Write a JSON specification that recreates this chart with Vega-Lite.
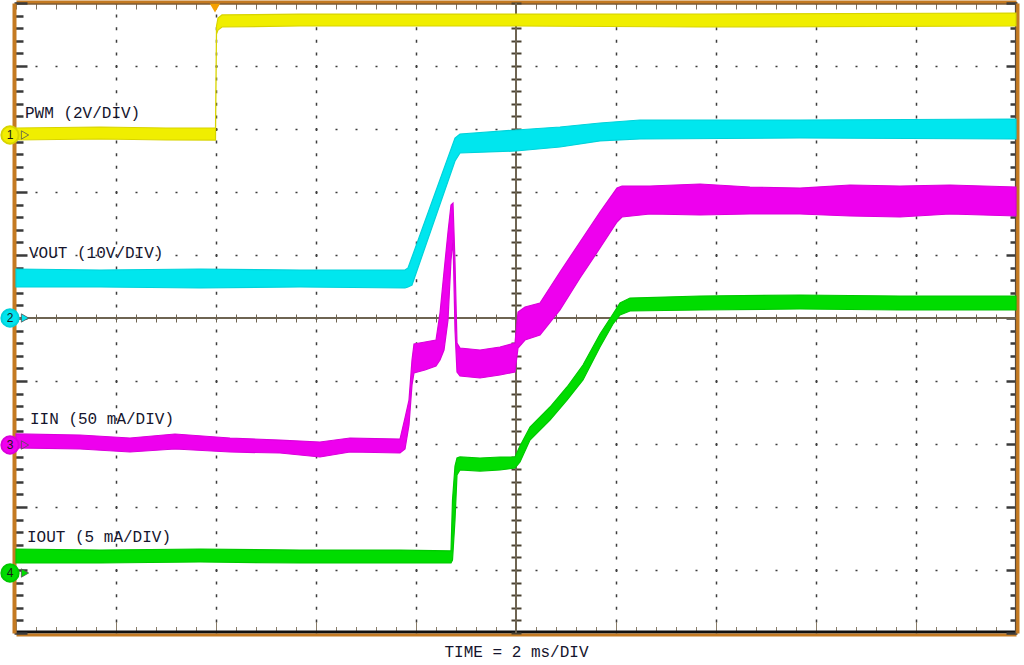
{
  "$schema": "https://vega.github.io/schema/vega-lite/v6.json",
  "width": 1000,
  "height": 630,
  "autosize": "none",
  "padding": {"left": 16, "top": 3, "right": 8, "bottom": 32},
  "background": "#FFFFFF",
  "config": {
    "view": {"stroke": null, "fill": "#FFFFFF"}
  },
  "datasets": {
    "center": [{"t": 0, "v": 0}],
    "traces": [
      {"s": "PWM", "t": -10, "lo": 2.825, "hi": 3.016},
      {"s": "PWM", "t": -8.32, "lo": 2.841, "hi": 3.032},
      {"s": "PWM", "t": -7.0, "lo": 2.825, "hi": 3.016},
      {"s": "PWM", "t": -6.01, "lo": 2.825, "hi": 3.016},
      {"s": "PWM", "t": -5.99, "lo": 4.508, "hi": 4.635},
      {"s": "PWM", "t": -5.96, "lo": 4.571, "hi": 4.762},
      {"s": "PWM", "t": -5.88, "lo": 4.619, "hi": 4.81},
      {"s": "PWM", "t": -4.32, "lo": 4.635, "hi": 4.825},
      {"s": "PWM", "t": 0, "lo": 4.635, "hi": 4.825},
      {"s": "PWM", "t": 3.68, "lo": 4.619, "hi": 4.825},
      {"s": "PWM", "t": 10, "lo": 4.635, "hi": 4.841},

      {"s": "VOUT", "t": -10, "lo": 0.492, "hi": 0.778},
      {"s": "VOUT", "t": -8.32, "lo": 0.492, "hi": 0.762},
      {"s": "VOUT", "t": -6.32, "lo": 0.476, "hi": 0.778},
      {"s": "VOUT", "t": -4.32, "lo": 0.492, "hi": 0.762},
      {"s": "VOUT", "t": -2.22, "lo": 0.476, "hi": 0.762},
      {"s": "VOUT", "t": -2.16, "lo": 0.492, "hi": 0.794},
      {"s": "VOUT", "t": -2.08, "lo": 0.524, "hi": 0.968},
      {"s": "VOUT", "t": -1.22, "lo": 2.492, "hi": 2.857},
      {"s": "VOUT", "t": -1.12, "lo": 2.619, "hi": 2.921},
      {"s": "VOUT", "t": 0, "lo": 2.651, "hi": 2.984},
      {"s": "VOUT", "t": 0.88, "lo": 2.714, "hi": 3.032},
      {"s": "VOUT", "t": 1.68, "lo": 2.81, "hi": 3.095},
      {"s": "VOUT", "t": 2.48, "lo": 2.841, "hi": 3.143},
      {"s": "VOUT", "t": 5.68, "lo": 2.857, "hi": 3.143},
      {"s": "VOUT", "t": 10, "lo": 2.841, "hi": 3.159},

      {"s": "IIN", "t": -10, "lo": -2.063, "hi": -1.841},
      {"s": "IIN", "t": -8.72, "lo": -2.079, "hi": -1.857},
      {"s": "IIN", "t": -7.72, "lo": -2.127, "hi": -1.905},
      {"s": "IIN", "t": -6.82, "lo": -2.079, "hi": -1.841},
      {"s": "IIN", "t": -5.72, "lo": -2.127, "hi": -1.905},
      {"s": "IIN", "t": -4.72, "lo": -2.143, "hi": -1.937},
      {"s": "IIN", "t": -3.92, "lo": -2.206, "hi": -1.968},
      {"s": "IIN", "t": -3.32, "lo": -2.127, "hi": -1.905},
      {"s": "IIN", "t": -2.32, "lo": -2.143, "hi": -1.921},
      {"s": "IIN", "t": -2.22, "lo": -2.079, "hi": -1.587},
      {"s": "IIN", "t": -2.14, "lo": -1.698, "hi": -1.302},
      {"s": "IIN", "t": -2.08, "lo": -1.063, "hi": -0.667},
      {"s": "IIN", "t": -2.04, "lo": -0.873, "hi": -0.413},
      {"s": "IIN", "t": -1.82, "lo": -0.825, "hi": -0.381},
      {"s": "IIN", "t": -1.6, "lo": -0.762, "hi": -0.349},
      {"s": "IIN", "t": -1.52, "lo": -0.667, "hi": 0.079},
      {"s": "IIN", "t": -1.44, "lo": -0.508, "hi": 0.73},
      {"s": "IIN", "t": -1.36, "lo": -0.032, "hi": 1.365},
      {"s": "IIN", "t": -1.3, "lo": 0.921, "hi": 1.794},
      {"s": "IIN", "t": -1.26, "lo": 1.238, "hi": 1.825},
      {"s": "IIN", "t": -1.22, "lo": -0.19, "hi": 0.889},
      {"s": "IIN", "t": -1.18, "lo": -0.857, "hi": -0.397},
      {"s": "IIN", "t": -1.12, "lo": -0.921, "hi": -0.476},
      {"s": "IIN", "t": -0.72, "lo": -0.952, "hi": -0.508},
      {"s": "IIN", "t": -0.32, "lo": -0.905, "hi": -0.46},
      {"s": "IIN", "t": -0.02, "lo": -0.857, "hi": -0.397},
      {"s": "IIN", "t": 0.04, "lo": -0.476, "hi": 0.095},
      {"s": "IIN", "t": 0.18, "lo": -0.349, "hi": 0.175},
      {"s": "IIN", "t": 0.48, "lo": -0.27, "hi": 0.238},
      {"s": "IIN", "t": 0.88, "lo": 0.127, "hi": 0.73},
      {"s": "IIN", "t": 1.28, "lo": 0.635, "hi": 1.206},
      {"s": "IIN", "t": 1.68, "lo": 1.111, "hi": 1.683},
      {"s": "IIN", "t": 2.02, "lo": 1.524, "hi": 2.063},
      {"s": "IIN", "t": 2.12, "lo": 1.603, "hi": 2.095},
      {"s": "IIN", "t": 2.68, "lo": 1.651, "hi": 2.095},
      {"s": "IIN", "t": 3.68, "lo": 1.635, "hi": 2.127},
      {"s": "IIN", "t": 4.68, "lo": 1.651, "hi": 2.079},
      {"s": "IIN", "t": 5.68, "lo": 1.651, "hi": 2.063},
      {"s": "IIN", "t": 6.68, "lo": 1.619, "hi": 2.111},
      {"s": "IIN", "t": 7.68, "lo": 1.603, "hi": 2.095},
      {"s": "IIN", "t": 8.68, "lo": 1.651, "hi": 2.111},
      {"s": "IIN", "t": 10, "lo": 1.619, "hi": 2.079},

      {"s": "IOUT", "t": -10, "lo": -3.889, "hi": -3.667},
      {"s": "IOUT", "t": -8.32, "lo": -3.889, "hi": -3.683},
      {"s": "IOUT", "t": -6.32, "lo": -3.873, "hi": -3.667},
      {"s": "IOUT", "t": -4.32, "lo": -3.889, "hi": -3.683},
      {"s": "IOUT", "t": -2.32, "lo": -3.889, "hi": -3.683},
      {"s": "IOUT", "t": -1.3, "lo": -3.889, "hi": -3.698},
      {"s": "IOUT", "t": -1.27, "lo": -3.841, "hi": -2.889},
      {"s": "IOUT", "t": -1.22, "lo": -3.206, "hi": -2.349},
      {"s": "IOUT", "t": -1.18, "lo": -2.492, "hi": -2.222},
      {"s": "IOUT", "t": -1.12, "lo": -2.413, "hi": -2.206},
      {"s": "IOUT", "t": -0.72, "lo": -2.429, "hi": -2.222},
      {"s": "IOUT", "t": -0.32, "lo": -2.413, "hi": -2.206},
      {"s": "IOUT", "t": -0.02, "lo": -2.381, "hi": -2.206},
      {"s": "IOUT", "t": 0.08, "lo": -2.286, "hi": -2.032},
      {"s": "IOUT", "t": 0.28, "lo": -1.937, "hi": -1.73},
      {"s": "IOUT", "t": 0.68, "lo": -1.619, "hi": -1.413},
      {"s": "IOUT", "t": 1.02, "lo": -1.302, "hi": -1.095},
      {"s": "IOUT", "t": 1.34, "lo": -0.984, "hi": -0.746},
      {"s": "IOUT", "t": 1.68, "lo": -0.46, "hi": -0.254},
      {"s": "IOUT", "t": 1.94, "lo": -0.095, "hi": 0.063},
      {"s": "IOUT", "t": 2.08, "lo": 0.048, "hi": 0.238},
      {"s": "IOUT", "t": 2.28, "lo": 0.111, "hi": 0.317},
      {"s": "IOUT", "t": 3.68, "lo": 0.127, "hi": 0.349},
      {"s": "IOUT", "t": 5.68, "lo": 0.143, "hi": 0.365},
      {"s": "IOUT", "t": 7.68, "lo": 0.127, "hi": 0.349},
      {"s": "IOUT", "t": 10, "lo": 0.127, "hi": 0.349}
    ],
    "labels": [
      {"label": "PWM (2V/DIV)", "t": -9.82, "v": 3.175},
      {"label": "VOUT (10V/DIV)", "t": -9.74, "v": 0.952},
      {"label": "IIN (50 mA/DIV)", "t": -9.72, "v": -1.683},
      {"label": "IOUT (5 mA/DIV)", "t": -9.78, "v": -3.556}
    ],
    "markers": [
      {"ch": "1", "t": -10.12, "v": 2.905},
      {"ch": "2", "t": -10.12, "v": 0},
      {"ch": "3", "t": -10.12, "v": -2.016},
      {"ch": "4", "t": -10.12, "v": -4.048}
    ],
    "trigger": [{"t": -6.02, "v": 4.92}]
  },
  "resolve": {"axis": {"x": "independent", "y": "independent"}},
  "layer": [
    {
      "data": {"name": "center"},
      "mark": {"type": "rule", "color": "#6E6452", "strokeWidth": 2},
      "encoding": {
        "x": {
          "field": "t", "type": "quantitative",
          "scale": {"domain": [-10, 10], "nice": false, "zero": false},
          "axis": {
            "orient": "top", "offset": 1, "title": null, "labels": false, "grid": false,
            "domain": true, "domainColor": "#C47A22", "domainWidth": 4,
            "values": [-10,-9.6,-9.2,-8.8,-8.4,-8,-7.6,-7.2,-6.8,-6.4,-6,-5.6,-5.2,-4.8,-4.4,-4,-3.6,-3.2,-2.8,-2.4,-2,-1.6,-1.2,-0.8,-0.4,0,0.4,0.8,1.2,1.6,2,2.4,2.8,3.2,3.6,4,4.4,4.8,5.2,5.6,6,6.4,6.8,7.2,7.6,8,8.4,8.8,9.2,9.6,10],
            "tickSize": -7, "tickWidth": 1, "tickColor": "#7A7060"
          }
        }
      }
    },
    {
      "data": {"name": "center"},
      "mark": {"type": "rule", "color": "#6E6452", "strokeWidth": 2},
      "encoding": {
        "y": {
          "field": "v", "type": "quantitative",
          "scale": {"domain": [-5, 5], "nice": false, "zero": false},
          "axis": {
            "orient": "right", "offset": 1, "title": null, "labels": false, "grid": false,
            "domain": true, "domainColor": "#C47A22", "domainWidth": 4,
            "values": [-5,-4.8,-4.6,-4.4,-4.2,-4,-3.8,-3.6,-3.4,-3.2,-3,-2.8,-2.6,-2.4,-2.2,-2,-1.8,-1.6,-1.4,-1.2,-1,-0.8,-0.6,-0.4,-0.2,0,0.2,0.4,0.6,0.8,1,1.2,1.4,1.6,1.8,2,2.2,2.4,2.6,2.8,3,3.2,3.4,3.6,3.8,4,4.2,4.4,4.6,4.8,5],
            "tickSize": {"condition": {"test": "abs(datum.value - round(datum.value)) < 0.01", "value": -11}, "value": -7},
            "tickWidth": 2.5, "tickColor": "#3A3A3A"
          }
        }
      }
    },
    {
      "data": {"name": "traces"},
      "mark": {"type": "area", "interpolate": "linear", "strokeWidth": 1.2},
      "encoding": {
        "x": {
          "field": "t", "type": "quantitative",
          "scale": {"domain": [-10, 10], "nice": false, "zero": false},
          "axis": {
            "orient": "bottom", "offset": -1.5, "labels": false, "grid": false,
            "domain": true, "domainColor": "#111111", "domainWidth": 3,
            "values": [-10,-9.6,-9.2,-8.8,-8.4,-8,-7.6,-7.2,-6.8,-6.4,-6,-5.6,-5.2,-4.8,-4.4,-4,-3.6,-3.2,-2.8,-2.4,-2,-1.6,-1.2,-0.8,-0.4,0,0.4,0.8,1.2,1.6,2,2.4,2.8,3.2,3.6,4,4.4,4.8,5.2,5.6,6,6.4,6.8,7.2,7.6,8,8.4,8.8,9.2,9.6,10],
            "tickSize": {"condition": {"test": "abs(datum.value/2 - round(datum.value/2)) < 0.01", "value": -10}, "value": -5},
            "tickWidth": 1, "tickColor": "#8A7E6A",
            "title": "TIME = 2 ms/DIV", "titleFont": "Liberation Mono", "titleFontSize": 16,
            "titleFontWeight": "normal", "titleColor": "#15152D", "titleY": 24.5, "titleBaseline": "alphabetic"
          }
        },
        "y": {
          "field": "lo", "type": "quantitative", "stack": null,
          "scale": {"domain": [-5, 5], "nice": false, "zero": false},
          "axis": {
            "orient": "left", "offset": 2, "title": null, "labels": false, "grid": false,
            "domain": true, "domainColor": "#C47A22", "domainWidth": 4,
            "values": [-5,-4.8,-4.6,-4.4,-4.2,-4,-3.8,-3.6,-3.4,-3.2,-3,-2.8,-2.6,-2.4,-2.2,-2,-1.8,-1.6,-1.4,-1.2,-1,-0.8,-0.6,-0.4,-0.2,0,0.2,0.4,0.6,0.8,1,1.2,1.4,1.6,1.8,2,2.2,2.4,2.6,2.8,3,3.2,3.4,3.6,3.8,4,4.2,4.4,4.6,4.8,5],
            "tickSize": {"condition": {"test": "abs(datum.value - round(datum.value)) < 0.01", "value": -13}, "value": -9},
            "tickWidth": 2.5, "tickColor": "#3A3A3A"
          }
        },
        "y2": {"field": "hi"},
        "color": {
          "field": "s", "type": "nominal", "legend": null,
          "scale": {"domain": ["PWM", "VOUT", "IIN", "IOUT"], "range": ["#F0EE00", "#00E6EE", "#EE00EE", "#00DC00"]}
        },
        "stroke": {
          "field": "s", "type": "nominal", "legend": null,
          "scale": {"domain": ["PWM", "VOUT", "IIN", "IOUT"], "range": ["#D8D400", "#00D2DA", "#DA00DA", "#00C800"]}
        }
      }
    },
    {
      "data": {"name": "labels"},
      "mark": {"type": "text", "font": "Liberation Mono", "fontSize": 16, "align": "left", "baseline": "alphabetic", "color": "#15152D"},
      "encoding": {
        "x": {
          "field": "t", "type": "quantitative",
          "scale": {"domain": [-10, 10], "nice": false, "zero": false},
          "axis": {
            "orient": "bottom", "offset": -319, "title": null, "labels": false, "domain": false, "grid": false,
            "values": [-10,-9.6,-9.2,-8.8,-8.4,-8,-7.6,-7.2,-6.8,-6.4,-6,-5.6,-5.2,-4.8,-4.4,-4,-3.6,-3.2,-2.8,-2.4,-2,-1.6,-1.2,-0.8,-0.4,0,0.4,0.8,1.2,1.6,2,2.4,2.8,3.2,3.6,4,4.4,4.8,5.2,5.6,6,6.4,6.8,7.2,7.6,8,8.4,8.8,9.2,9.6,10],
            "tickSize": 8, "tickWidth": 1, "tickColor": "#6E6452"
          }
        },
        "y": {
          "field": "v", "type": "quantitative",
          "scale": {"domain": [-5, 5], "nice": false, "zero": false},
          "axis": {
            "orient": "left", "offset": -505, "title": null, "labels": false, "domain": false, "grid": false,
            "values": [-5,-4.8,-4.6,-4.4,-4.2,-4,-3.8,-3.6,-3.4,-3.2,-3,-2.8,-2.6,-2.4,-2.2,-2,-1.8,-1.6,-1.4,-1.2,-1,-0.8,-0.6,-0.4,-0.2,0,0.2,0.4,0.6,0.8,1,1.2,1.4,1.6,1.8,2,2.2,2.4,2.6,2.8,3,3.2,3.4,3.6,3.8,4,4.2,4.4,4.6,4.8,5],
            "tickSize": 10, "tickWidth": 2, "tickColor": "#4A4232"
          }
        },
        "text": {"field": "label"}
      }
    },
    {
      "data": {"name": "markers"},
      "mark": {"type": "point", "shape": "circle", "filled": true, "size": 300, "strokeWidth": 2, "opacity": 1},
      "encoding": {
        "x": {
          "field": "t", "type": "quantitative",
          "scale": {"domain": [-10, 10], "nice": false, "zero": false},
          "axis": {
            "orient": "bottom", "title": null, "labels": false, "domain": false, "ticks": false,
            "grid": true, "values": [-8, -6, -4, -2, 2, 4, 6, 8],
            "gridColor": "#3C3C3C", "gridWidth": 1.5, "gridDash": [3, 9.6], "gridDashOffset": 1.5, "gridOpacity": 1
          }
        },
        "y": {
          "field": "v", "type": "quantitative",
          "scale": {"domain": [-5, 5], "nice": false, "zero": false},
          "axis": {
            "orient": "left", "title": null, "labels": false, "domain": false, "ticks": false,
            "grid": true, "values": [-4, -3, -2, -1, 1, 2, 3, 4],
            "gridColor": "#3C3C3C", "gridWidth": 1.5, "gridDash": [2, 18], "gridDashOffset": 1, "gridOpacity": 1
          }
        },
        "fill": {
          "field": "ch", "type": "nominal", "legend": null,
          "scale": {"domain": ["1", "2", "3", "4"], "range": ["#F2EE00", "#00E4EE", "#F000F0", "#00DC00"]}
        },
        "stroke": {
          "field": "ch", "type": "nominal", "legend": null,
          "scale": {"domain": ["1", "2", "3", "4"], "range": ["#A8A8A8", "#A8A8A8", "#F0A000", "#A8A8A8"]}
        }
      }
    },
    {
      "data": {"name": "markers"},
      "mark": {"type": "point", "shape": "triangle-right", "filled": true, "size": 70, "strokeWidth": 0.8, "stroke": "#555555", "opacity": 1, "xOffset": 15},
      "encoding": {
        "x": {
          "field": "t", "type": "quantitative", "scale": {"domain": [-10, 10], "nice": false, "zero": false},
          "axis": {"orient": "top", "offset": -0.5, "title": null, "labels": false, "ticks": false, "grid": false, "domain": true, "domainColor": "#5A4A3A", "domainWidth": 1.2}
        },
        "y": {"field": "v", "type": "quantitative", "scale": {"domain": [-5, 5], "nice": false, "zero": false}, "axis": null},
        "fill": {
          "field": "ch", "type": "nominal", "legend": null,
          "scale": {"domain": ["1", "2", "3", "4"], "range": ["#F2EE00", "#00E4EE", "#F000F0", "#00DC00"]}
        }
      }
    },
    {
      "data": {"name": "markers"},
      "mark": {"type": "text", "font": "Liberation Sans", "fontSize": 12, "align": "center", "baseline": "middle", "color": "#1A1A1A"},
      "encoding": {
        "x": {"field": "t", "type": "quantitative", "scale": {"domain": [-10, 10], "nice": false, "zero": false}, "axis": null},
        "y": {
          "field": "v", "type": "quantitative", "scale": {"domain": [-5, 5], "nice": false, "zero": false},
          "axis": {"orient": "right", "offset": -1, "title": null, "labels": false, "ticks": false, "grid": false, "domain": true, "domainColor": "#5A4A3A", "domainWidth": 1.2}
        },
        "text": {"field": "ch"}
      }
    },
    {
      "data": {"name": "trigger"},
      "mark": {"type": "point", "shape": "triangle-down", "filled": true, "size": 110, "color": "#F5A000", "opacity": 1},
      "encoding": {
        "x": {
          "field": "t", "type": "quantitative", "scale": {"domain": [-10, 10], "nice": false, "zero": false},
          "axis": {"orient": "bottom", "offset": 1.5, "title": null, "labels": false, "ticks": false, "grid": false, "domain": true, "domainColor": "#C47A22", "domainWidth": 3}
        },
        "y": {"field": "v", "type": "quantitative", "scale": {"domain": [-5, 5], "nice": false, "zero": false}, "axis": null}
      }
    }
  ]
}
